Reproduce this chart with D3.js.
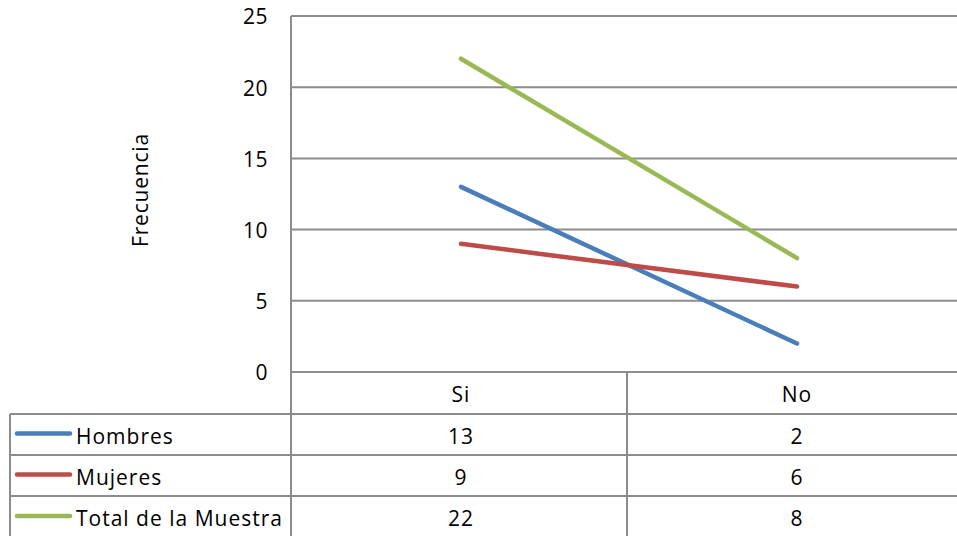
<!DOCTYPE html>
<html><head><meta charset="utf-8">
<script src="https://cdn.jsdelivr.net/npm/d3@7"></script>
<style>body{margin:0;background:#fff}svg{display:block}text{font-family:"Open Sans",sans-serif;fill:#000}</style>
</head><body>
<script>
const categories = ["Si", "No"];
const seriesNames = ["Hombres", "Mujeres", "Total de la Muestra"];
const hombres = [13, 2];
const mujeres = [9, 6];
const total = [22, 8];
const yTicks = [0, 5, 10, 15, 20, 25];
const colors = ["#4a7ebb", "#be4b48", "#98b954"];
const series = [hombres, mujeres, total];

const W = 957, H = 536;
const FS = 21;
const svg = d3.select("body").append("svg").attr("width", W).attr("height", H);
const x = d3.scaleBand().domain(categories).range([291, 963]);
const y = d3.scaleLinear().domain([0, 25]).range([372, 16]);
const grid = "#8c8c8c";
const cx = c => x(c) + x.bandwidth() / 2 + 2;

// gridlines
svg.append("g").selectAll("line").data(yTicks.filter(d => d > 0)).join("line")
  .attr("x1", 291).attr("x2", W).attr("y1", d => y(d)).attr("y2", d => y(d))
  .attr("stroke", grid).attr("stroke-width", 2);
// y axis labels
svg.append("g").selectAll("text").data(yTicks).join("text")
  .attr("x", 268).attr("y", d => y(d)).attr("dy", "0.4em").attr("text-anchor", "end")
  .attr("font-size", FS).attr("letter-spacing", 0.5).text(d => d);
// y title
svg.append("text").attr("transform", "translate(148,190) rotate(-90)")
  .attr("text-anchor", "middle").attr("font-size", FS).attr("letter-spacing", 0.8).text("Frecuencia");

// table
const rowY = [372, 414, 455, 496, 538];
const tg = svg.append("g").attr("stroke", grid).attr("stroke-width", 2);
tg.append("line").attr("x1", 291).attr("x2", W).attr("y1", y(0)).attr("y2", y(0));
rowY.slice(1, 4).forEach(v => tg.append("line").attr("x1", 10).attr("x2", W).attr("y1", v).attr("y2", v));
tg.append("line").attr("x1", 291).attr("x2", 291).attr("y1", 16).attr("y2", H);
tg.append("line").attr("x1", 10).attr("x2", 10).attr("y1", rowY[1]).attr("y2", H);
categories.slice(1).forEach(c => tg.append("line").attr("x1", x(c)).attr("x2", x(c)).attr("y1", y(0)).attr("y2", H));

// header
svg.append("g").selectAll("text").data(categories).join("text")
  .attr("x", d => cx(d)).attr("y", (rowY[0] + rowY[1]) / 2).attr("dy", "0.45em")
  .attr("text-anchor", "middle").attr("font-size", FS).attr("letter-spacing", 1).text(d => d);

seriesNames.forEach((name, i) => {
  const cy = (rowY[i + 1] + rowY[i + 2]) / 2;
  svg.append("line").attr("x1", 17).attr("x2", 70).attr("y1", cy - 1).attr("y2", cy - 1)
    .attr("stroke", colors[i]).attr("stroke-width", 4.5).attr("stroke-linecap", "round");
  svg.append("text").attr("x", 76).attr("y", cy).attr("dy", "0.45em").attr("font-size", FS)
    .attr("letter-spacing", 1).text(name);
  svg.append("g").selectAll("text").data(series[i]).join("text")
    .attr("x", (d, j) => cx(categories[j])).attr("y", cy).attr("dy", "0.45em")
    .attr("text-anchor", "middle").attr("font-size", FS).attr("letter-spacing", 1).text(d => d);
});

// lines
const line = d3.line().x((d, j) => cx(categories[j])).y(d => y(d));
series.forEach((s, i) => {
  svg.append("path").attr("d", line(s)).attr("fill", "none")
    .attr("stroke", colors[i]).attr("stroke-width", 4.5).attr("stroke-linecap", "round");
});
</script>
</body></html>
